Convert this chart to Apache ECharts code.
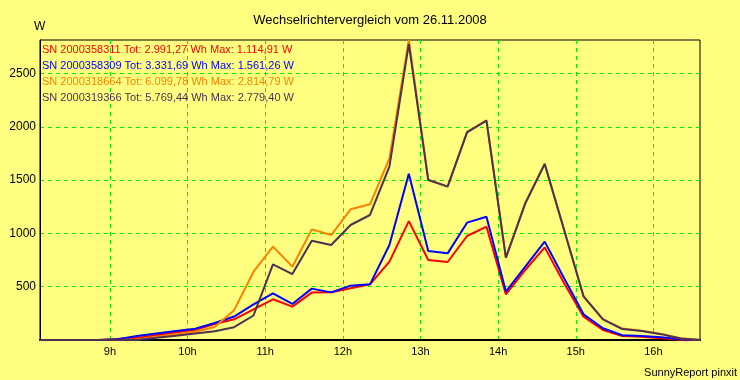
<!DOCTYPE html>
<html>
<head>
<meta charset="utf-8">
<script src="https://cdn.jsdelivr.net/npm/echarts@6/dist/echarts.min.js"></script>
<style>
html,body{margin:0;padding:0;background:#FFFF80;}
#c{width:740px;height:380px;}
</style>
</head>
<body>
<div id="c"></div>
<script>
// time stamps (15-minute samples)
var times = ['08:06','08:21','08:36','08:51','09:06','09:21','09:36','09:51','10:06','10:21','10:36','10:51',
  '11:06','11:21','11:36','11:51','12:06','12:21','12:36','12:51','13:06','13:21','13:36','13:51',
  '14:06','14:21','14:36','14:51','15:06','15:21','15:36','15:51','16:06','16:21','16:36'];
// power in W per inverter
var sn358311 = [0,0,0,0,10,20,45,70,95,150,194,288,382,313,445,447,485,522,735,1115,751,732,976,1063,428,657,869,532,219,94,38,31,16,2,0];
var sn358309 = [0,0,0,0,8,38,62,84,105,160,220,335,438,338,482,447,510,522,891,1561,835,813,1101,1157,454,688,923,580,241,110,44,38,25,8,0];
var sn318664 = [0,0,0,0,0,5,30,55,77,122,280,641,876,688,1038,985,1226,1273,1705,2815,1505,1442,1952,2060,770,1285,1655,1035,410,196,107,86,57,16,0];
var sn319366 = [0,0,0,0,0,0,20,40,60,82,120,230,710,619,932,891,1079,1173,1626,2779,1501,1439,1949,2058,773,1282,1651,1032,410,194,103,85,55,15,0];
var seriesNames = ['SN 2000358311','SN 2000358309','SN 2000318664','SN 2000319366'];
var legendLines = [
  'SN 2000358311 Tot: 2.991,27 Wh Max: 1.114,91 W',
  'SN 2000358309 Tot: 3.331,69 Wh Max: 1.561,26 W',
  'SN 2000318664 Tot: 6.099,78 Wh Max: 2.814,79 W',
  'SN 2000319366 Tot: 5.769,44 Wh Max: 2.779,40 W'
];
var hourTicks = ['09:00','10:00','11:00','12:00','13:00','14:00','15:00','16:00'];
var yTicks = [500,1000,1500,2000,2500];
var titleText = 'Wechselrichtervergleich vom 26.11.2008';
var unitText = 'W';
var footerText = 'SunnyReport pinxit';

var colors = ['#FF0000','#0000FF','#FF8000','#4B3152'];
function toMin(t){var p=t.split(':');return +p[0]*60 + +p[1];}
var xs = times.map(toMin);
var allSeries = [sn358311, sn358309, sn318664, sn319366];
var yMax = Math.max.apply(null, sn318664);
var hourVals = hourTicks.map(toMin);

var chart = echarts.init(document.getElementById('c'), null, {renderer:'canvas'});
var FONT = '"Liberation Sans", Arial, sans-serif';
var graphics = [];
legendLines.forEach(function(t,i){
  graphics.push({type:'text', left:42, top:44+i*16.2, z:100,
    style:{text:t, fill:colors[i], font:'11px '+FONT}});
});
var gridStyle = {color:'#00EE00', type:[4,4], width:1};
chart.setOption({
  backgroundColor:'#FFFF80',
  animation:false,
  title:[
    {text:titleText, left:'center', top:14, padding:0, textStyle:{fontFamily:FONT, fontSize:13, fontWeight:'normal', color:'#000'}},
    {text:unitText, left:34, top:21, padding:0, textStyle:{fontFamily:FONT, fontSize:12, fontWeight:'normal', color:'#000'}},
    {text:footerText, right:3, top:367, padding:0, textStyle:{fontFamily:FONT, fontSize:11, fontWeight:'normal', color:'#000'}}
  ],
  grid:{left:40, right:40, top:40, bottom:40, show:true, borderColor:'#000', borderWidth:1, backgroundColor:'transparent'},
  xAxis:{
    type:'value', min:xs[0], max:xs[xs.length-1],
    axisLine:{show:true, onZero:false, lineStyle:{color:'#000', width:2}},
    axisTick:{show:false, customValues:hourVals},
    axisLabel:{customValues:hourVals, color:'#000', fontFamily:FONT, fontSize:11, margin:6,
      formatter:function(v){return Math.round(v/60)+'h';}},
    splitLine:{show:true, lineStyle:gridStyle}
  },
  yAxis:{
    type:'value', min:0, max:yMax,
    axisLine:{show:true, lineStyle:{color:'#000', width:1}},
    axisTick:{show:false, customValues:yTicks},
    axisLabel:{customValues:yTicks, color:'#000', fontFamily:FONT, fontSize:12, margin:4,
      formatter:function(v){return String(v);}},
    splitLine:{show:true, lineStyle:gridStyle}
  },
  graphic:graphics,
  series: allSeries.map(function(arr,i){
    return {name:seriesNames[i], type:'line', showSymbol:false, symbol:'none',
      data: arr.map(function(v,k){return [xs[k], v];}),
      lineStyle:{color:colors[i], width:2}, itemStyle:{color:colors[i]}, z:2+i};
  })
});
</script>
</body>
</html>
